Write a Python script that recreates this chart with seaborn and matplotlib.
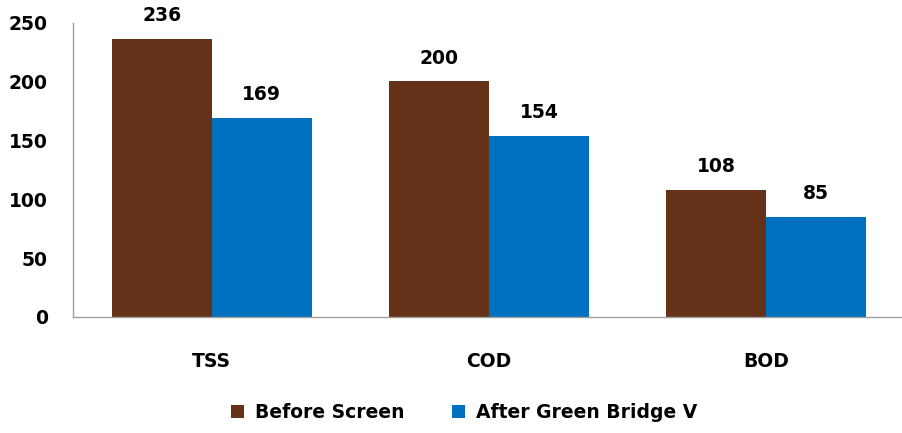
import matplotlib
matplotlib.use("Agg")
import matplotlib.pyplot as plt
import seaborn as sns
import pandas as pd

categories = ["TSS", "COD", "BOD"]
series_names = ["Before Screen", "After Green Bridge V"]
before_values = [236, 200, 108]
after_values = [169, 154, 85]
colors = ["#643219", "#0070C0"]

df = pd.DataFrame({
    "param": categories * 2,
    "stage": [series_names[0]] * 3 + [series_names[1]] * 3,
    "value": before_values + after_values,
})

sns.set_style("white")
plt.rcParams["font.family"] = ["DejaVu Sans"]
plt.rcParams["font.weight"] = "bold"
plt.rcParams["text.color"] = "black"
plt.rcParams["xtick.color"] = "black"
plt.rcParams["ytick.color"] = "black"

FS = 13.5

fig = plt.figure(figsize=(9.03, 4.33), dpi=100)
ax = fig.add_axes([73 / 903, 116 / 433, 832 / 903, 294.5 / 433])

sns.barplot(data=df, x="param", y="value", hue="stage", palette=colors,
            width=0.72, saturation=1, linewidth=0, ax=ax, legend=True)

for cont in ax.containers:
    ax.bar_label(cont, fmt="%d", padding=10, fontsize=FS, fontweight="bold",
                 color="black")

ax.set_ylim(0, 250)
ax.set_xlim(-0.5, 2.5)
ax.set_yticks([0, 50, 100, 150, 200, 250])
ax.set_xlabel("")
ax.set_ylabel("")
ax.tick_params(axis="both", length=0, labelsize=FS, colors="black")
ax.tick_params(axis="y", pad=18)
ax.tick_params(axis="x", pad=25)
for lbl in ax.get_xticklabels() + ax.get_yticklabels():
    lbl.set_fontweight("bold")

for side in ["top", "right"]:
    ax.spines[side].set_visible(False)
for side in ["left", "bottom"]:
    ax.spines[side].set_color("#A0A0A0")
    ax.spines[side].set_linewidth(1)

ax.legend(loc="upper center", bbox_to_anchor=(0.47, -0.235), ncol=2, frameon=False,
          handlelength=0.7, handleheight=0.7, columnspacing=2.5,
          handletextpad=0.6, prop={"weight": "bold", "size": FS},
          labelcolor="black")

fig.savefig("out.png", dpi=100)
